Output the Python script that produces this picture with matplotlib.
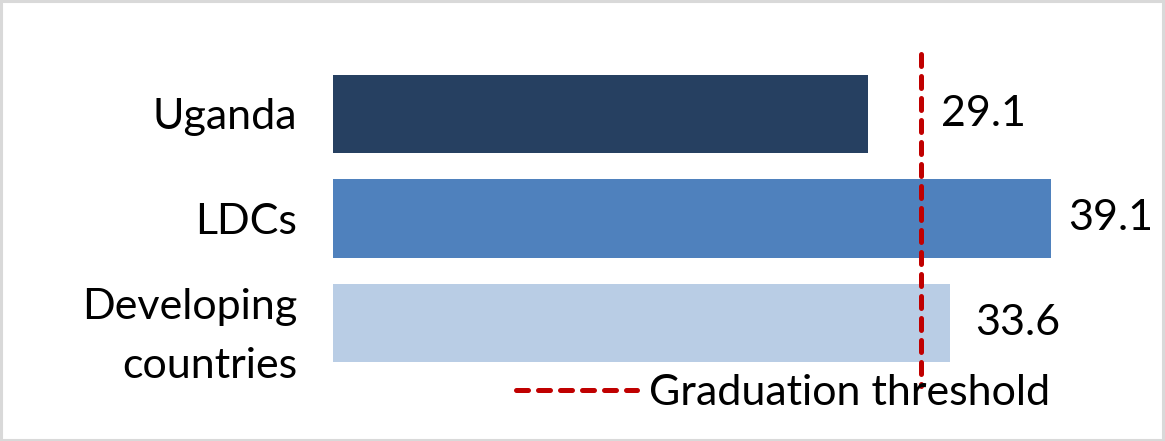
import matplotlib.pyplot as plt
from matplotlib.lines import Line2D

# values
categories = ['Uganda', 'LDCs', 'Developing\ncountries']
values = [29.1, 39.1, 33.6]
bar_colors = ['#264061', '#4F81BD', '#B9CDE5']
threshold = 32
threshold_label = 'Graduation threshold'

plt.rcParams['font.family'] = ['Lato', 'DejaVu Sans']
fs = 31

fig = plt.figure(figsize=(11.65, 4.41), dpi=100)
ax = fig.add_axes([333 / 1165, 0, 1 - 333 / 1165, 1])

ypos = list(range(len(categories)))
ax.barh(ypos, values, height=0.75, color=bar_colors)
ax.set_xlim(0, (1165 - 333) / 18.37)
ax.set_ylim((441 - 114) / 104.5, -114 / 104.5)

# dashed threshold line
ax.plot([threshold, threshold], [-0.57, 2.6], color='#C00000', lw=3.6,
        dashes=(2.4, 2.0), dash_capstyle='round', solid_capstyle='round')

# value labels, kept clear of the threshold line
for y, v in zip(ypos, values):
    x = max(v, threshold)
    off = 20 if v < threshold else (17 if v > 36 else 25)
    ax.annotate(f'{v:.1f}', (x, y), xytext=(off, 0), textcoords='offset pixels',
                va='center', ha='left', fontsize=fs)

ax.set_yticks(ypos)
ax.set_yticklabels(categories, fontsize=fs, linespacing=1.65)
ax.tick_params(axis='y', length=0, pad=26)
ax.set_xticks([])
for s in ax.spines.values():
    s.set_visible(False)

handle = Line2D([], [], color='#C00000', lw=3.6, dashes=(2.4, 2.0), dash_capstyle='round')
fig.legend([handle], [threshold_label], loc='center left',
           bbox_to_anchor=(516 / 1165, 1 - 393 / 441), frameon=False, fontsize=fs,
           handlelength=2.8, handletextpad=0.28, borderaxespad=0, borderpad=0)

# light grey frame round the picture
fig.patches.append(plt.Rectangle((0.001, 0.002), 0.997, 0.995, transform=fig.transFigure,
                                 fill=False, edgecolor='#D9D9D9', lw=2.2))

fig.savefig('out.png', dpi=100)
